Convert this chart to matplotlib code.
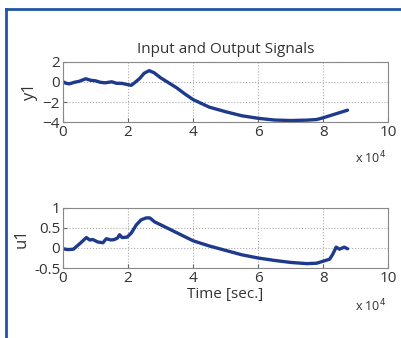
import matplotlib
matplotlib.use("Agg")
import matplotlib.pyplot as plt
from matplotlib.lines import Line2D

plt.rcParams["font.family"] = ["Open Sans", "DejaVu Sans"]
plt.rcParams["text.color"] = "#333333"
plt.rcParams["axes.labelcolor"] = "#333333"

# time axis in units of 1e4 seconds
t_y1 = [0, 0.1, 0.2, 0.35, 0.5, 0.7, 0.85, 1.0, 1.15, 1.3, 1.5, 1.65, 1.8, 1.95, 2.1,
        2.2, 2.35, 2.5, 2.65, 2.8, 3.0, 3.25, 3.5, 3.75, 4.0, 4.5, 5.0, 5.5, 6.0,
        6.5, 7.0, 7.5, 7.8, 8.0, 8.15, 8.3, 8.45, 8.6, 8.75]
y1 = [0.0, -0.15, -0.2, -0.05, 0.05, 0.3, 0.15, 0.1, -0.05, -0.1, 0.0, -0.15, -0.15,
      -0.25, -0.35, -0.1, 0.3, 0.85, 1.1, 0.9, 0.4, -0.1, -0.6, -1.2, -1.75, -2.5,
      -2.95, -3.35, -3.6, -3.77, -3.82, -3.78, -3.72, -3.55, -3.4, -3.25, -3.1, -2.95, -2.8]

t_u1 = [0, 0.15, 0.32, 0.52, 0.72, 0.82, 0.92, 1.07, 1.23, 1.33, 1.48, 1.58, 1.68,
        1.74, 1.82, 1.97, 2.1, 2.25, 2.4, 2.56, 2.67, 2.82, 3.0, 3.4, 4.0, 4.5, 5.0,
        5.5, 6.0, 6.5, 7.0, 7.5, 7.8, 8.0, 8.2, 8.3, 8.4, 8.5, 8.65, 8.75]
u1 = [-0.02, -0.04, -0.03, 0.11, 0.26, 0.2, 0.21, 0.15, 0.13, 0.23, 0.2, 0.21, 0.25,
      0.33, 0.26, 0.27, 0.37, 0.57, 0.7, 0.75, 0.75, 0.65, 0.58, 0.42, 0.18, 0.05,
      -0.06, -0.17, -0.25, -0.31, -0.36, -0.39, -0.38, -0.33, -0.28, -0.15, 0.02,
      -0.03, 0.02, -0.02]

x_ticks = [0, 2, 4, 6, 8, 10]
line_color = "#1e3a8c"

fig = plt.figure(figsize=(4.01, 3.38), dpi=100)
fig.patch.set_facecolor("white")

ax1 = fig.add_axes([0.157, 0.638, 0.811, 0.180])
ax2 = fig.add_axes([0.157, 0.207, 0.811, 0.178])

for ax in (ax1, ax2):
    ax.set_xlim(0, 10)
    ax.set_xticks(x_ticks)
    ax.grid(True, linestyle=":", color="#aaaaaa", linewidth=0.8)
    ax.tick_params(direction="in", length=3, labelsize=11, pad=2, color="#666666",
                   labelcolor="#333333")
    for s in ax.spines.values():
        s.set_color("#888888")
        s.set_linewidth(0.8)

ax1.plot(t_y1, y1, color=line_color, linewidth=2.4, solid_capstyle="round")
ax1.set_ylim(-4, 2)
ax1.set_yticks([-4, -2, 0, 2])
ax1.set_ylabel("y1", fontsize=12, labelpad=3)
ax1.set_title("Input and Output Signals", fontsize=11, pad=6)

ax2.plot(t_u1, u1, color=line_color, linewidth=2.4, solid_capstyle="round")
ax2.set_ylim(-0.5, 1)
ax2.set_yticks([-0.5, 0, 0.5, 1])
ax2.set_yticklabels(["-0.5", "0", "0.5", "1"])
ax2.set_ylabel("u1", fontsize=12, labelpad=3)
ax2.set_xlabel("Time [sec.]", fontsize=11, labelpad=1)

fig.text(0.923, 0.533, r"x 10$^{4}$", fontsize=9, ha="center", va="center")
fig.text(0.923, 0.095, r"x 10$^{4}$", fontsize=9, ha="center", va="center")

# blue frame on top and left edges
fig.add_artist(Line2D([6 / 401, 6 / 401], [0, 1 - 9 / 338], color="#1f55a5", linewidth=2))
fig.add_artist(Line2D([6 / 401, 1], [1 - 9 / 338, 1 - 9 / 338], color="#1f55a5", linewidth=2))

fig.savefig("out.png", dpi=100)
